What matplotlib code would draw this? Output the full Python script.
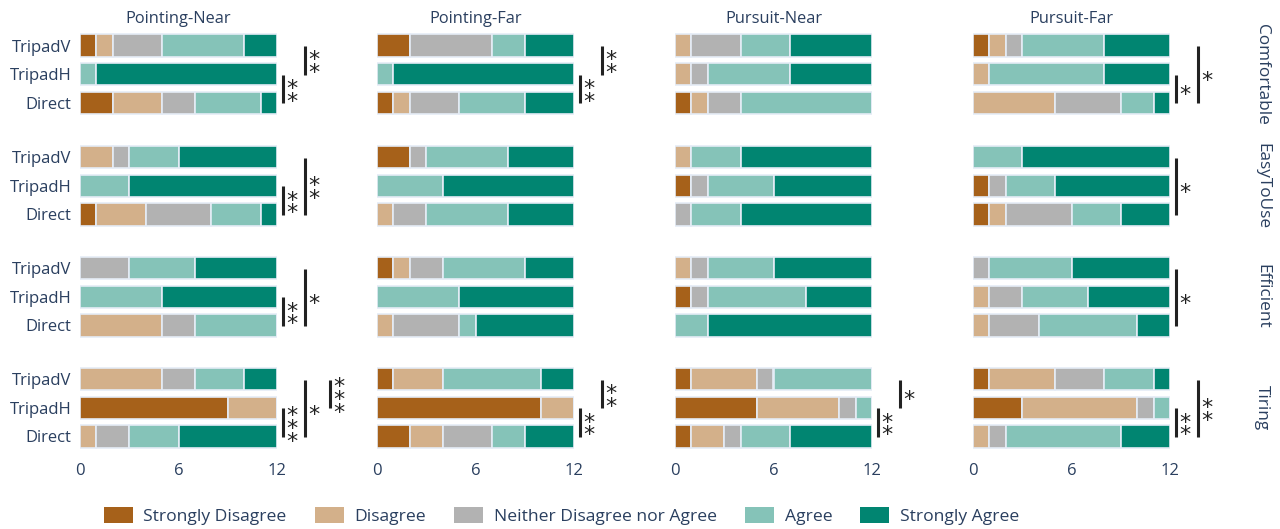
import matplotlib
matplotlib.use("Agg")
import matplotlib.pyplot as plt
from matplotlib.patches import Patch
import numpy as np

plt.rcParams['font.family'] = ['Open Sans', 'DejaVu Sans']

levels = ["Strongly Disagree", "Disagree", "Neither Disagree nor Agree", "Agree", "Strongly Agree"]
colors = ["#a6611a", "#d3b08a", "#b2b2b2", "#85c3b8", "#018571"]
techniques = ["TripadV", "TripadH", "Direct"]
conditions = ["Pointing-Near", "Pointing-Far", "Pursuit-Near", "Pursuit-Far"]
questions = ["Comfortable", "EasyToUse", "Efficient", "Tiring"]
xticks = [0, 6, 12]

# counts[condition][technique][level]
comfortable = [
    [[1, 1, 3, 5, 2], [0, 0, 0, 1, 11], [2, 3, 2, 4, 1]],
    [[2, 0, 5, 2, 3], [0, 0, 0, 1, 11], [1, 1, 3, 4, 3]],
    [[0, 1, 3, 3, 5], [0, 1, 1, 5, 5], [1, 1, 2, 8, 0]],
    [[1, 1, 1, 5, 4], [0, 1, 0, 7, 4], [0, 5, 4, 2, 1]],
]
easy_to_use = [
    [[0, 2, 1, 3, 6], [0, 0, 0, 3, 9], [1, 3, 4, 3, 1]],
    [[2, 0, 1, 5, 4], [0, 0, 0, 4, 8], [0, 1, 2, 5, 4]],
    [[0, 1, 0, 3, 8], [1, 0, 1, 4, 6], [0, 0, 1, 3, 8]],
    [[0, 0, 0, 3, 9], [1, 0, 1, 3, 7], [1, 1, 4, 3, 3]],
]
efficient = [
    [[0, 0, 3, 4, 5], [0, 0, 0, 5, 7], [0, 5, 2, 5, 0]],
    [[1, 1, 2, 5, 3], [0, 0, 0, 5, 7], [0, 1, 4, 1, 6]],
    [[0, 1, 1, 4, 6], [1, 0, 1, 6, 4], [0, 0, 0, 2, 10]],
    [[0, 0, 1, 5, 6], [0, 1, 2, 4, 5], [0, 1, 3, 6, 2]],
]
tiring = [
    [[0, 5, 2, 3, 2], [9, 3, 0, 0, 0], [0, 1, 2, 3, 6]],
    [[1, 3, 0, 6, 2], [10, 2, 0, 0, 0], [2, 2, 3, 2, 3]],
    [[1, 4, 1, 6, 0], [5, 5, 1, 1, 0], [1, 2, 1, 3, 5]],
    [[1, 4, 3, 3, 1], [3, 7, 1, 1, 0], [0, 1, 1, 7, 3]],
]
all_data = [comfortable, easy_to_use, efficient, tiring]

# significance: (question row, condition col, tech a, tech b, bracket level, stars)
sig_rows = [0, 0, 0, 0, 0, 0, 1, 1, 1, 2, 2, 2, 3, 3, 3, 3, 3, 3, 3, 3, 3]
sig_cols = [0, 0, 1, 1, 3, 3, 0, 0, 3, 0, 0, 3, 0, 0, 0, 1, 1, 2, 2, 3, 3]
sig_a = [0, 1, 0, 1, 1, 0, 1, 0, 0, 1, 0, 0, 1, 0, 0, 0, 1, 0, 1, 1, 0]
sig_b = [1, 2, 1, 2, 2, 2, 2, 2, 2, 2, 2, 2, 2, 2, 1, 1, 2, 1, 2, 2, 2]
sig_level = [2, 1, 2, 1, 1, 2, 1, 2, 1, 1, 2, 1, 1, 2, 3, 2, 1, 2, 1, 1, 2]
sig_stars = [2, 2, 2, 2, 1, 1, 2, 2, 1, 2, 1, 1, 3, 1, 3, 2, 2, 1, 2, 2, 2]

TXT = "#2a3f5f"
W, H = 1280, 529
fig = plt.figure(figsize=(W / 100, H / 100), dpi=100)

col_left = [80, 377, 675, 973]
col_w = 197
row_top = [31.2, 142.7, 253.7, 364.7]
row_h = 86

axes = {}
for r in range(4):
    for c in range(4):
        ax = fig.add_axes([col_left[c] / W, 1 - (row_top[r] + row_h) / H, col_w / W, row_h / H])
        axes[(r, c)] = ax
        counts = np.array(all_data[r][c], dtype=float)
        y = np.arange(3)
        left = np.zeros(3)
        for k in range(5):
            ax.barh(y, counts[:, k], left=left, height=0.78, color=colors[k],
                    edgecolor="#e5ecf6", linewidth=1.2)
            left += counts[:, k]
        ax.set_xlim(0, 12)
        ax.set_ylim(2.5, -0.5)
        for s in ax.spines.values():
            s.set_visible(False)
        ax.tick_params(length=0, labelsize=12, labelcolor=TXT)
        ax.set_yticks(y)
        if c == 0:
            ax.set_yticklabels(techniques)
            ax.tick_params(axis='y', pad=6)
        else:
            ax.set_yticklabels([])
        ax.set_xticks(xticks)
        if r == 3:
            ax.set_xticklabels([str(t) for t in xticks])
            ax.tick_params(axis='x', pad=9)
        else:
            ax.set_xticklabels([])
        if r == 0:
            ax.set_title(conditions[c], fontsize=11.8, color=TXT, pad=6)
        if c == 3:
            ax.text(1.0 + (1262 - (col_left[3] + col_w)) / col_w, 0.5, questions[r],
                    transform=ax.transAxes, rotation=-90, ha='center', va='center',
                    fontsize=12.4, color=TXT)

level_x = {1: 12.35, 2: 13.7, 3: 15.2}
for i in range(len(sig_rows)):
    ax = axes[(sig_rows[i], sig_cols[i])]
    x = level_x[sig_level[i]]
    y0, y1 = sig_a[i], sig_b[i]
    ax.plot([x, x], [y0 + 0.02, y1 + 0.02], color="#222222", lw=2.2, clip_on=False,
            solid_capstyle='butt')
    n = sig_stars[i]
    ym = (y0 + y1) / 2 + 0.02
    ax.text(x + 0.55, ym + 0.22, "\n".join(["*"] * n), ha='center', va='center',
            fontsize=16, color="#222222", family='DejaVu Sans', clip_on=False,
            linespacing=0.55, multialignment='center')

handles = [Patch(facecolor=colors[k], edgecolor='none') for k in range(5)]
fig.legend(handles, levels, loc='center left', bbox_to_anchor=(95 / W, 1 - 516 / H),
           ncol=5, frameon=False, fontsize=12.6, labelcolor=TXT, borderpad=0,
           handlelength=1.65, handleheight=1.05, handletextpad=0.62, columnspacing=1.6)

fig.savefig("out.png", dpi=100, facecolor='white')
